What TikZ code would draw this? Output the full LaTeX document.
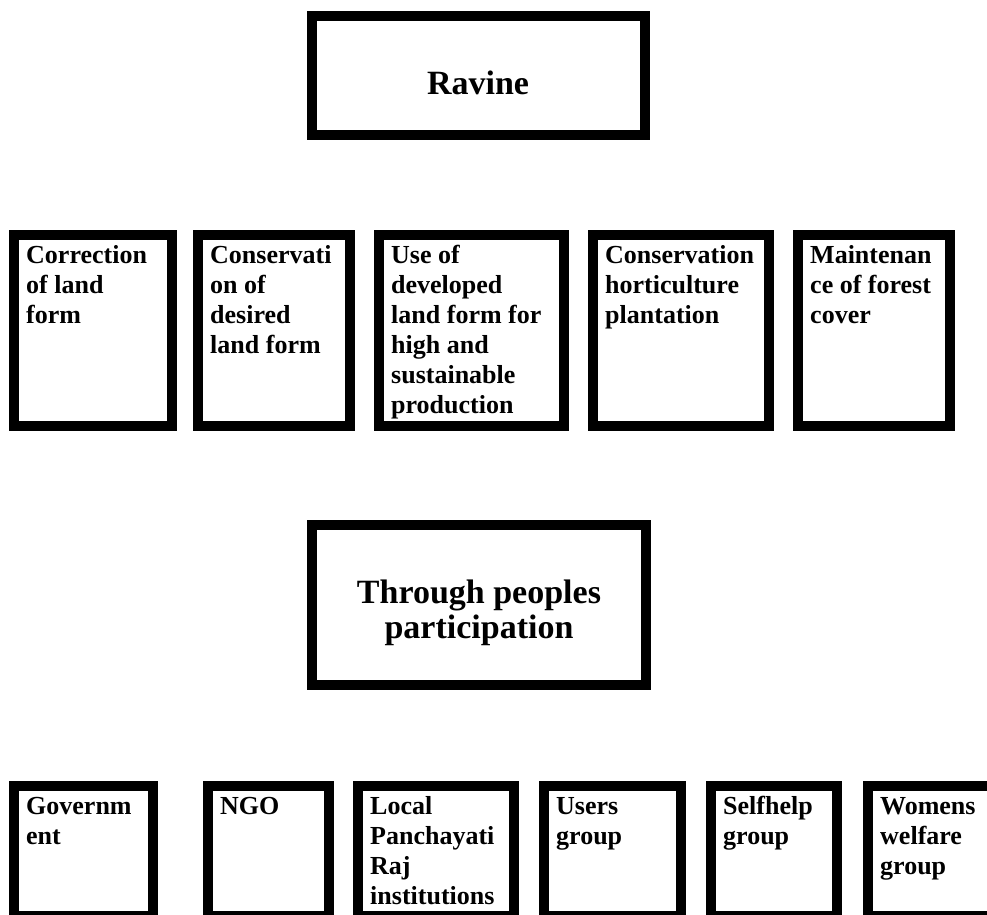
\documentclass[tikz,border=0pt]{standalone}
\usepackage{fontspec}
\setmainfont{Liberation Serif}
\tikzset{
  frame/.style={draw=black, line width=10pt, fill=white, inner sep=0pt, outer sep=0pt},
  celltext/.style={font=\bfseries\fontsize{26}{30}\selectfont, align=left, anchor=north west, inner sep=0pt},
  headtext/.style={font=\bfseries\fontsize{34}{35}\selectfont, align=center, anchor=north, inner sep=0pt},
}
% \cell{name}{left}{top}{right}{bottom}{text}: outer edges in pt, y measured downwards
\newcommand\cell[6]{%
  \node[frame, minimum width={#4-#2-10}, minimum height={#5-#3-10}] (#1) at ({(#2+#4)/2},{-(#3+#5)/2}) {};
  \node[celltext] (#1-t) at ({#2+17},{-(#3+12)}) {\strut #6};
}
\begin{document}
\begin{tikzpicture}[x=1pt, y=1pt]
  \useasboundingbox (0,0) rectangle (987,-914);
  \fill[white] (0,0) rectangle (987,-914);
  \clip (0,0) rectangle (987,-914);

  % top heading
  \node[frame, minimum width=333, minimum height=119] (ravine) at (478.5,-75.5) {};
  \node[headtext] (ravine-t) at (478,-69.5) {\strut Ravine};

  % activities
  \cell{a1}{9}{230}{177}{431}{Correction\\of land\\form}
  \cell{a2}{193}{230}{355}{431}{Conservati\\on of\\desired\\land form}
  \cell{a3}{374}{230}{569}{431}{Use of\\developed\\land form for\\high and\\sustainable\\production}
  \cell{a4}{588}{230}{774}{431}{Conservation\\horticulture\\plantation}
  \cell{a5}{793}{230}{955}{431}{Maintenan\\ce of forest\\cover}

  % middle heading
  \node[frame, minimum width=334, minimum height=160] (people) at (479,-605) {};
  \node[headtext] (people-t) at (479,-578.5) {\strut Through peoples\\participation};

  % participants
  \cell{p1}{9}{781}{158}{921}{Governm\\ent}
  \cell{p2}{203}{781}{334}{921}{NGO}
  \cell{p3}{353}{781}{519}{921}{Local\\Panchayati\\Raj\\institutions}
  \cell{p4}{539}{781}{686}{921}{Users\\group}
  \cell{p5}{706}{781}{842}{921}{Selfhelp\\group}
  \cell{p6}{863}{781}{1002}{921}{Womens\\welfare\\group}
\end{tikzpicture}
\end{document}
